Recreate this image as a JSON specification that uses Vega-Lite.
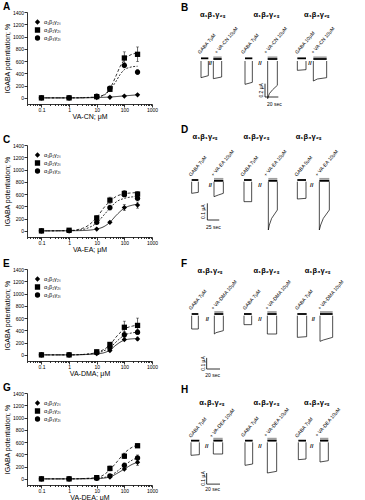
{
"$schema":"https://vega.github.io/schema/vega-lite/v6.json",
"padding":{"left":3,"top":2,"right":0,"bottom":0},
"config":{"font":"Liberation Sans","view":{"stroke":null},
"axis":{"domainColor":"black","tickColor":"black","labelColor":"black","titleColor":"black","grid":false,"labelFontSize":5,"titleFontSize":7,"titleFontWeight":"normal","tickSize":3,"domainWidth":0.8,"tickWidth":0.8,"labelPadding":0.5},
"legend":{"orient":"top-left","offset":7,"padding":0,"rowPadding":1,"labelFontSize":5.5,"symbolSize":28,"labelOffset":3,"labelColor":"black","clipHeight":6},
"title":{"fontSize":10,"fontWeight":"bold","anchor":"start","frame":"group","color":"black","offset":-2}},
"datasets":{
"pts":[
{"drug":"CN","sub":"α₁β₁γ₂ₛ","conc":0.1,"pot":0},{"drug":"CN","sub":"α₁β₁γ₂ₛ","conc":1,"pot":0},{"drug":"CN","sub":"α₁β₁γ₂ₛ","conc":10,"pot":5},{"drug":"CN","sub":"α₁β₁γ₂ₛ","conc":30,"pot":10},{"drug":"CN","sub":"α₁β₁γ₂ₛ","conc":100,"pot":30},{"drug":"CN","sub":"α₁β₁γ₂ₛ","conc":300,"pot":50},
{"drug":"CN","sub":"α₁β₂γ₂ₛ","conc":0.1,"pot":0},{"drug":"CN","sub":"α₁β₂γ₂ₛ","conc":1,"pot":0},{"drug":"CN","sub":"α₁β₂γ₂ₛ","conc":10,"pot":20},{"drug":"CN","sub":"α₁β₂γ₂ₛ","conc":30,"pot":140},{"drug":"CN","sub":"α₁β₂γ₂ₛ","conc":100,"pot":650},{"drug":"CN","sub":"α₁β₂γ₂ₛ","conc":300,"pot":710},
{"drug":"CN","sub":"α₁β₃γ₂ₛ","conc":0.1,"pot":0},{"drug":"CN","sub":"α₁β₃γ₂ₛ","conc":1,"pot":0},{"drug":"CN","sub":"α₁β₃γ₂ₛ","conc":10,"pot":30},{"drug":"CN","sub":"α₁β₃γ₂ₛ","conc":30,"pot":160},{"drug":"CN","sub":"α₁β₃γ₂ₛ","conc":100,"pot":530},{"drug":"CN","sub":"α₁β₃γ₂ₛ","conc":300,"pot":420},
{"drug":"EA","sub":"α₁β₁γ₂ₛ","conc":0.1,"pot":0},{"drug":"EA","sub":"α₁β₁γ₂ₛ","conc":1,"pot":0},{"drug":"EA","sub":"α₁β₁γ₂ₛ","conc":10,"pot":30},{"drug":"EA","sub":"α₁β₁γ₂ₛ","conc":30,"pot":140},{"drug":"EA","sub":"α₁β₁γ₂ₛ","conc":100,"pot":380},{"drug":"EA","sub":"α₁β₁γ₂ₛ","conc":300,"pot":420},
{"drug":"EA","sub":"α₁β₂γ₂ₛ","conc":0.1,"pot":0},{"drug":"EA","sub":"α₁β₂γ₂ₛ","conc":1,"pot":10},{"drug":"EA","sub":"α₁β₂γ₂ₛ","conc":10,"pot":210},{"drug":"EA","sub":"α₁β₂γ₂ₛ","conc":30,"pot":500},{"drug":"EA","sub":"α₁β₂γ₂ₛ","conc":100,"pot":610},{"drug":"EA","sub":"α₁β₂γ₂ₛ","conc":300,"pot":600},
{"drug":"EA","sub":"α₁β₃γ₂ₛ","conc":0.1,"pot":0},{"drug":"EA","sub":"α₁β₃γ₂ₛ","conc":1,"pot":5},{"drug":"EA","sub":"α₁β₃γ₂ₛ","conc":10,"pot":140},{"drug":"EA","sub":"α₁β₃γ₂ₛ","conc":30,"pot":380},{"drug":"EA","sub":"α₁β₃γ₂ₛ","conc":100,"pot":590},{"drug":"EA","sub":"α₁β₃γ₂ₛ","conc":300,"pot":530},
{"drug":"DMA","sub":"α₁β₁γ₂ₛ","conc":0.1,"pot":0},{"drug":"DMA","sub":"α₁β₁γ₂ₛ","conc":1,"pot":0},{"drug":"DMA","sub":"α₁β₁γ₂ₛ","conc":10,"pot":20},{"drug":"DMA","sub":"α₁β₁γ₂ₛ","conc":30,"pot":70},{"drug":"DMA","sub":"α₁β₁γ₂ₛ","conc":100,"pot":250},{"drug":"DMA","sub":"α₁β₁γ₂ₛ","conc":300,"pot":260},
{"drug":"DMA","sub":"α₁β₂γ₂ₛ","conc":0.1,"pot":0},{"drug":"DMA","sub":"α₁β₂γ₂ₛ","conc":1,"pot":0},{"drug":"DMA","sub":"α₁β₂γ₂ₛ","conc":10,"pot":50},{"drug":"DMA","sub":"α₁β₂γ₂ₛ","conc":30,"pot":170},{"drug":"DMA","sub":"α₁β₂γ₂ₛ","conc":100,"pot":450},{"drug":"DMA","sub":"α₁β₂γ₂ₛ","conc":300,"pot":480},
{"drug":"DMA","sub":"α₁β₃γ₂ₛ","conc":0.1,"pot":0},{"drug":"DMA","sub":"α₁β₃γ₂ₛ","conc":1,"pot":0},{"drug":"DMA","sub":"α₁β₃γ₂ₛ","conc":10,"pot":40},{"drug":"DMA","sub":"α₁β₃γ₂ₛ","conc":30,"pot":120},{"drug":"DMA","sub":"α₁β₃γ₂ₛ","conc":100,"pot":330},{"drug":"DMA","sub":"α₁β₃γ₂ₛ","conc":300,"pot":370},
{"drug":"DEA","sub":"α₁β₁γ₂ₛ","conc":0.1,"pot":0},{"drug":"DEA","sub":"α₁β₁γ₂ₛ","conc":1,"pot":0},{"drug":"DEA","sub":"α₁β₁γ₂ₛ","conc":10,"pot":10},{"drug":"DEA","sub":"α₁β₁γ₂ₛ","conc":30,"pot":30},{"drug":"DEA","sub":"α₁β₁γ₂ₛ","conc":100,"pot":160},{"drug":"DEA","sub":"α₁β₁γ₂ₛ","conc":300,"pot":270},
{"drug":"DEA","sub":"α₁β₂γ₂ₛ","conc":0.1,"pot":0},{"drug":"DEA","sub":"α₁β₂γ₂ₛ","conc":1,"pot":0},{"drug":"DEA","sub":"α₁β₂γ₂ₛ","conc":10,"pot":20},{"drug":"DEA","sub":"α₁β₂γ₂ₛ","conc":30,"pot":170},{"drug":"DEA","sub":"α₁β₂γ₂ₛ","conc":100,"pot":370},{"drug":"DEA","sub":"α₁β₂γ₂ₛ","conc":300,"pot":540},
{"drug":"DEA","sub":"α₁β₃γ₂ₛ","conc":0.1,"pot":0},{"drug":"DEA","sub":"α₁β₃γ₂ₛ","conc":1,"pot":0},{"drug":"DEA","sub":"α₁β₃γ₂ₛ","conc":10,"pot":10},{"drug":"DEA","sub":"α₁β₃γ₂ₛ","conc":30,"pot":50},{"drug":"DEA","sub":"α₁β₃γ₂ₛ","conc":100,"pot":220},{"drug":"DEA","sub":"α₁β₃γ₂ₛ","conc":300,"pot":340}
],
"fits":[
{"drug":"CN","curve":"b1","conc":0.1,"pot":0},{"drug":"CN","curve":"b1","conc":1,"pot":0},{"drug":"CN","curve":"b1","conc":10,"pot":5},{"drug":"CN","curve":"b1","conc":30,"pot":14},{"drug":"CN","curve":"b1","conc":100,"pot":32},{"drug":"CN","curve":"b1","conc":300,"pot":50},
{"drug":"CN","curve":"b2","conc":0.1,"pot":0},{"drug":"CN","curve":"b2","conc":1,"pot":0},{"drug":"CN","curve":"b2","conc":3,"pot":1},{"drug":"CN","curve":"b2","conc":10,"pot":15},{"drug":"CN","curve":"b2","conc":20,"pot":60},{"drug":"CN","curve":"b2","conc":30,"pot":150},{"drug":"CN","curve":"b2","conc":50,"pot":360},{"drug":"CN","curve":"b2","conc":70,"pot":510},{"drug":"CN","curve":"b2","conc":100,"pot":620},{"drug":"CN","curve":"b2","conc":150,"pot":690},{"drug":"CN","curve":"b2","conc":200,"pot":715},{"drug":"CN","curve":"b2","conc":300,"pot":730},
{"drug":"CN","curve":"b3","conc":0.1,"pot":0},{"drug":"CN","curve":"b3","conc":1,"pot":0},{"drug":"CN","curve":"b3","conc":10,"pot":15},{"drug":"CN","curve":"b3","conc":20,"pot":55},{"drug":"CN","curve":"b3","conc":30,"pot":130},{"drug":"CN","curve":"b3","conc":50,"pot":270},{"drug":"CN","curve":"b3","conc":70,"pot":380},{"drug":"CN","curve":"b3","conc":100,"pot":460},{"drug":"CN","curve":"b3","conc":150,"pot":495},{"drug":"CN","curve":"b3","conc":200,"pot":508},{"drug":"CN","curve":"b3","conc":300,"pot":515},
{"drug":"EA","curve":"b1","conc":0.1,"pot":0},{"drug":"EA","curve":"b1","conc":1,"pot":2},{"drug":"EA","curve":"b1","conc":3,"pot":5},{"drug":"EA","curve":"b1","conc":10,"pot":30},{"drug":"EA","curve":"b1","conc":20,"pot":80},{"drug":"EA","curve":"b1","conc":30,"pot":140},{"drug":"EA","curve":"b1","conc":50,"pot":250},{"drug":"EA","curve":"b1","conc":100,"pot":370},{"drug":"EA","curve":"b1","conc":200,"pot":420},{"drug":"EA","curve":"b1","conc":300,"pot":435},
{"drug":"EA","curve":"b2","conc":0.1,"pot":0},{"drug":"EA","curve":"b2","conc":1,"pot":5},{"drug":"EA","curve":"b2","conc":3,"pot":40},{"drug":"EA","curve":"b2","conc":5,"pot":90},{"drug":"EA","curve":"b2","conc":10,"pot":220},{"drug":"EA","curve":"b2","conc":20,"pot":400},{"drug":"EA","curve":"b2","conc":30,"pot":480},{"drug":"EA","curve":"b2","conc":50,"pot":560},{"drug":"EA","curve":"b2","conc":100,"pot":605},{"drug":"EA","curve":"b2","conc":200,"pot":620},{"drug":"EA","curve":"b2","conc":300,"pot":625},
{"drug":"EA","curve":"b3","conc":0.1,"pot":0},{"drug":"EA","curve":"b3","conc":1,"pot":3},{"drug":"EA","curve":"b3","conc":3,"pot":20},{"drug":"EA","curve":"b3","conc":5,"pot":50},{"drug":"EA","curve":"b3","conc":10,"pot":130},{"drug":"EA","curve":"b3","conc":20,"pot":280},{"drug":"EA","curve":"b3","conc":30,"pot":370},{"drug":"EA","curve":"b3","conc":50,"pot":470},{"drug":"EA","curve":"b3","conc":100,"pot":530},{"drug":"EA","curve":"b3","conc":200,"pot":555},{"drug":"EA","curve":"b3","conc":300,"pot":560},
{"drug":"DMA","curve":"b1","conc":0.1,"pot":0},{"drug":"DMA","curve":"b1","conc":1,"pot":0},{"drug":"DMA","curve":"b1","conc":10,"pot":15},{"drug":"DMA","curve":"b1","conc":20,"pot":40},{"drug":"DMA","curve":"b1","conc":30,"pot":75},{"drug":"DMA","curve":"b1","conc":50,"pot":160},{"drug":"DMA","curve":"b1","conc":100,"pot":240},{"drug":"DMA","curve":"b1","conc":200,"pot":262},{"drug":"DMA","curve":"b1","conc":300,"pot":265},
{"drug":"DMA","curve":"b2","conc":0.1,"pot":0},{"drug":"DMA","curve":"b2","conc":1,"pot":0},{"drug":"DMA","curve":"b2","conc":3,"pot":5},{"drug":"DMA","curve":"b2","conc":10,"pot":40},{"drug":"DMA","curve":"b2","conc":20,"pot":100},{"drug":"DMA","curve":"b2","conc":30,"pot":160},{"drug":"DMA","curve":"b2","conc":50,"pot":290},{"drug":"DMA","curve":"b2","conc":100,"pot":420},{"drug":"DMA","curve":"b2","conc":200,"pot":470},{"drug":"DMA","curve":"b2","conc":300,"pot":485},
{"drug":"DMA","curve":"b3","conc":0.1,"pot":0},{"drug":"DMA","curve":"b3","conc":1,"pot":0},{"drug":"DMA","curve":"b3","conc":10,"pot":30},{"drug":"DMA","curve":"b3","conc":20,"pot":75},{"drug":"DMA","curve":"b3","conc":30,"pot":115},{"drug":"DMA","curve":"b3","conc":50,"pot":210},{"drug":"DMA","curve":"b3","conc":100,"pot":320},{"drug":"DMA","curve":"b3","conc":200,"pot":360},{"drug":"DMA","curve":"b3","conc":300,"pot":370},
{"drug":"DEA","curve":"b1","conc":0.1,"pot":0},{"drug":"DEA","curve":"b1","conc":1,"pot":0},{"drug":"DEA","curve":"b1","conc":10,"pot":5},{"drug":"DEA","curve":"b1","conc":30,"pot":30},{"drug":"DEA","curve":"b1","conc":50,"pot":80},{"drug":"DEA","curve":"b1","conc":100,"pot":160},{"drug":"DEA","curve":"b1","conc":200,"pot":240},{"drug":"DEA","curve":"b1","conc":300,"pot":270},
{"drug":"DEA","curve":"b2","conc":0.1,"pot":0},{"drug":"DEA","curve":"b2","conc":1,"pot":0},{"drug":"DEA","curve":"b2","conc":10,"pot":20},{"drug":"DEA","curve":"b2","conc":20,"pot":80},{"drug":"DEA","curve":"b2","conc":30,"pot":150},{"drug":"DEA","curve":"b2","conc":50,"pot":260},{"drug":"DEA","curve":"b2","conc":100,"pot":420},{"drug":"DEA","curve":"b2","conc":200,"pot":520},{"drug":"DEA","curve":"b2","conc":300,"pot":550},
{"drug":"DEA","curve":"b3","conc":0.1,"pot":0},{"drug":"DEA","curve":"b3","conc":1,"pot":0},{"drug":"DEA","curve":"b3","conc":10,"pot":10},{"drug":"DEA","curve":"b3","conc":30,"pot":50},{"drug":"DEA","curve":"b3","conc":50,"pot":110},{"drug":"DEA","curve":"b3","conc":100,"pot":220},{"drug":"DEA","curve":"b3","conc":200,"pot":310},{"drug":"DEA","curve":"b3","conc":300,"pot":345}
],
"errs":[
{"drug":"CN","conc":100,"lo":550,"hi":750},{"drug":"CN","conc":300,"lo":590,"hi":830},{"drug":"CN","conc":100,"lo":490,"hi":570},{"drug":"CN","conc":300,"lo":380,"hi":460},{"drug":"CN","conc":30,"lo":110,"hi":170},
{"drug":"EA","conc":100,"lo":330,"hi":430},{"drug":"EA","conc":300,"lo":370,"hi":470},{"drug":"EA","conc":10,"lo":170,"hi":250},{"drug":"EA","conc":30,"lo":450,"hi":550},{"drug":"EA","conc":100,"lo":560,"hi":660},{"drug":"EA","conc":300,"lo":560,"hi":640},{"drug":"EA","conc":30,"lo":340,"hi":420},
{"drug":"DMA","conc":100,"lo":350,"hi":550},{"drug":"DMA","conc":300,"lo":380,"hi":600},{"drug":"DMA","conc":100,"lo":280,"hi":380},{"drug":"DMA","conc":300,"lo":330,"hi":410},{"drug":"DMA","conc":300,"lo":230,"hi":290},
{"drug":"DEA","conc":300,"lo":220,"hi":320},{"drug":"DEA","conc":30,"lo":130,"hi":210},{"drug":"DEA","conc":100,"lo":330,"hi":420},{"drug":"DEA","conc":300,"lo":510,"hi":570},{"drug":"DEA","conc":100,"lo":180,"hi":260},{"drug":"DEA","conc":300,"lo":290,"hi":390}
],
"tr":[
{"panel":"B","id":"1g","t":31.5,"I":-0.735},{"panel":"B","id":"1g","t":31.5,"I":-0.985},{"panel":"B","id":"1g","t":42.5,"I":-0.955},{"panel":"B","id":"1g","t":42.5,"I":-0.735},
{"panel":"B","id":"1c","t":50,"I":-0.735},{"panel":"B","id":"1c","t":50,"I":-1.0},{"panel":"B","id":"1c","t":62.5,"I":-0.975},{"panel":"B","id":"1c","t":62.5,"I":-0.735},
{"panel":"B","id":"2g","t":97.5,"I":-0.735},{"panel":"B","id":"2g","t":97.5,"I":-1.085},{"panel":"B","id":"2g","t":108.5,"I":-1.055},{"panel":"B","id":"2g","t":108.5,"I":-0.735},
{"panel":"B","id":"2c","t":131.5,"I":-0.735},{"panel":"B","id":"2c","t":131.5,"I":-1.3},{"panel":"B","id":"2c","t":134,"I":-1.225},{"panel":"B","id":"2c","t":139,"I":-1.165},{"panel":"B","id":"2c","t":146,"I":-1.1},{"panel":"B","id":"2c","t":146,"I":-0.735},
{"panel":"B","id":"3g","t":176,"I":-0.735},{"panel":"B","id":"3g","t":176,"I":-0.875},{"panel":"B","id":"3g","t":189,"I":-0.865},{"panel":"B","id":"3g","t":189,"I":-0.735},
{"panel":"B","id":"3c","t":200,"I":-0.735},{"panel":"B","id":"3c","t":200,"I":-1.035},{"panel":"B","id":"3c","t":206,"I":-1.005},{"panel":"B","id":"3c","t":220,"I":-0.985},{"panel":"B","id":"3c","t":220,"I":-0.735},
{"panel":"D","id":"1g","t":24.5,"I":-0.22},{"panel":"D","id":"1g","t":24.5,"I":-0.29},{"panel":"D","id":"1g","t":38.5,"I":-0.284},{"panel":"D","id":"1g","t":38.5,"I":-0.22},
{"panel":"D","id":"1c","t":71.4,"I":-0.22},{"panel":"D","id":"1c","t":71.4,"I":-0.31},{"panel":"D","id":"1c","t":80.5,"I":-0.3},{"panel":"D","id":"1c","t":91,"I":-0.29},{"panel":"D","id":"1c","t":91,"I":-0.22},
{"panel":"D","id":"2g","t":134.4,"I":-0.22},{"panel":"D","id":"2g","t":134.4,"I":-0.34},{"panel":"D","id":"2g","t":150.5,"I":-0.34},{"panel":"D","id":"2g","t":150.5,"I":-0.22},
{"panel":"D","id":"2c","t":185.5,"I":-0.22},{"panel":"D","id":"2c","t":185.5,"I":-0.51},{"panel":"D","id":"2c","t":187.6,"I":-0.48},{"panel":"D","id":"2c","t":192.5,"I":-0.44},{"panel":"D","id":"2c","t":204.4,"I":-0.39},{"panel":"D","id":"2c","t":204.4,"I":-0.22},
{"panel":"D","id":"3g","t":246.4,"I":-0.22},{"panel":"D","id":"3g","t":246.4,"I":-0.324},{"panel":"D","id":"3g","t":264.6,"I":-0.32},{"panel":"D","id":"3g","t":264.6,"I":-0.22},
{"panel":"D","id":"3c","t":292.6,"I":-0.22},{"panel":"D","id":"3c","t":292.6,"I":-0.51},{"panel":"D","id":"3c","t":295.4,"I":-0.48},{"panel":"D","id":"3c","t":301,"I":-0.44},{"panel":"D","id":"3c","t":313.6,"I":-0.39},{"panel":"D","id":"3c","t":313.6,"I":-0.22},
{"panel":"F","id":"1g","t":17.5,"I":-0.42},{"panel":"F","id":"1g","t":17.5,"I":-0.54},{"panel":"F","id":"1g","t":27.5,"I":-0.54},{"panel":"F","id":"1g","t":27.5,"I":-0.42},
{"panel":"F","id":"1c","t":51.5,"I":-0.42},{"panel":"F","id":"1c","t":51.5,"I":-0.585},{"panel":"F","id":"1c","t":54,"I":-0.573},{"panel":"F","id":"1c","t":65,"I":-0.555},{"panel":"F","id":"1c","t":65,"I":-0.42},
{"panel":"F","id":"2g","t":96,"I":-0.42},{"panel":"F","id":"2g","t":96,"I":-0.501},{"panel":"F","id":"2g","t":107.5,"I":-0.501},{"panel":"F","id":"2g","t":107.5,"I":-0.42},
{"panel":"F","id":"2c","t":131,"I":-0.42},{"panel":"F","id":"2c","t":131,"I":-0.585},{"panel":"F","id":"2c","t":145,"I":-0.585},{"panel":"F","id":"2c","t":145,"I":-0.42},
{"panel":"F","id":"3g","t":176,"I":-0.42},{"panel":"F","id":"3g","t":176,"I":-0.615},{"panel":"F","id":"3g","t":190,"I":-0.609},{"panel":"F","id":"3g","t":190,"I":-0.42},
{"panel":"F","id":"3c","t":210,"I":-0.42},{"panel":"F","id":"3c","t":210,"I":-0.651},{"panel":"F","id":"3c","t":215,"I":-0.639},{"panel":"F","id":"3c","t":229,"I":-0.615},{"panel":"F","id":"3c","t":229,"I":-0.42},
{"panel":"H","id":"1g","t":16.5,"I":-0.444},{"panel":"H","id":"1g","t":16.5,"I":-0.561},{"panel":"H","id":"1g","t":29,"I":-0.555},{"panel":"H","id":"1g","t":29,"I":-0.444},
{"panel":"H","id":"1c","t":50,"I":-0.444},{"panel":"H","id":"1c","t":50,"I":-0.549},{"panel":"H","id":"1c","t":64,"I":-0.549},{"panel":"H","id":"1c","t":64,"I":-0.444},
{"panel":"H","id":"2g","t":97.5,"I":-0.444},{"panel":"H","id":"2g","t":97.5,"I":-0.651},{"panel":"H","id":"2g","t":109,"I":-0.639},{"panel":"H","id":"2g","t":109,"I":-0.444},
{"panel":"H","id":"2c","t":131,"I":-0.444},{"panel":"H","id":"2c","t":131,"I":-0.72},{"panel":"H","id":"2c","t":145,"I":-0.705},{"panel":"H","id":"2c","t":145,"I":-0.444},
{"panel":"H","id":"3g","t":177.5,"I":-0.444},{"panel":"H","id":"3g","t":177.5,"I":-0.6},{"panel":"H","id":"3g","t":189,"I":-0.594},{"panel":"H","id":"3g","t":189,"I":-0.444},
{"panel":"H","id":"3c","t":210,"I":-0.444},{"panel":"H","id":"3c","t":210,"I":-0.621},{"panel":"H","id":"3c","t":222.5,"I":-0.609},{"panel":"H","id":"3c","t":222.5,"I":-0.444}
],
"bars":[
{"panel":"B","agent":"GABA","t":31.5,"t2":42.5,"I":-0.695},{"panel":"B","agent":"GABA","t":97.5,"t2":108.5,"I":-0.695},{"panel":"B","agent":"GABA","t":176,"t2":189,"I":-0.695},
{"panel":"B","agent":"modulator","t":50,"t2":62.5,"I":-0.68},{"panel":"B","agent":"GABA","t":50,"t2":62.5,"I":-0.705},{"panel":"B","agent":"modulator","t":131.5,"t2":146,"I":-0.68},{"panel":"B","agent":"GABA","t":131.5,"t2":146,"I":-0.705},{"panel":"B","agent":"modulator","t":200,"t2":220,"I":-0.68},{"panel":"B","agent":"GABA","t":200,"t2":220,"I":-0.705},
{"panel":"D","agent":"GABA","t":24.5,"t2":38.5,"I":-0.21},{"panel":"D","agent":"GABA","t":134.4,"t2":150.5,"I":-0.21},{"panel":"D","agent":"GABA","t":246.4,"t2":264.6,"I":-0.21},
{"panel":"D","agent":"modulator","t":71.4,"t2":91,"I":-0.203},{"panel":"D","agent":"GABA","t":71.4,"t2":91,"I":-0.215},{"panel":"D","agent":"modulator","t":185.5,"t2":204.4,"I":-0.203},{"panel":"D","agent":"GABA","t":185.5,"t2":204.4,"I":-0.215},{"panel":"D","agent":"modulator","t":292.6,"t2":313.6,"I":-0.203},{"panel":"D","agent":"GABA","t":292.6,"t2":313.6,"I":-0.215},
{"panel":"F","agent":"GABA","t":17.5,"t2":27.5,"I":-0.405},{"panel":"F","agent":"GABA","t":96,"t2":107.5,"I":-0.405},{"panel":"F","agent":"GABA","t":176,"t2":190,"I":-0.405},
{"panel":"F","agent":"modulator","t":51.5,"t2":65,"I":-0.387},{"panel":"F","agent":"GABA","t":51.5,"t2":65,"I":-0.405},{"panel":"F","agent":"modulator","t":131,"t2":145,"I":-0.387},{"panel":"F","agent":"GABA","t":131,"t2":145,"I":-0.405},{"panel":"F","agent":"modulator","t":210,"t2":229,"I":-0.387},{"panel":"F","agent":"GABA","t":210,"t2":229,"I":-0.405},
{"panel":"H","agent":"GABA","t":16.5,"t2":29,"I":-0.429},{"panel":"H","agent":"GABA","t":97.5,"t2":109,"I":-0.429},{"panel":"H","agent":"GABA","t":177.5,"t2":189,"I":-0.429},
{"panel":"H","agent":"modulator","t":50,"t2":64,"I":-0.411},{"panel":"H","agent":"GABA","t":50,"t2":64,"I":-0.429},{"panel":"H","agent":"modulator","t":131,"t2":145,"I":-0.411},{"panel":"H","agent":"GABA","t":131,"t2":145,"I":-0.429},{"panel":"H","agent":"modulator","t":210,"t2":222.5,"I":-0.411},{"panel":"H","agent":"GABA","t":210,"t2":222.5,"I":-0.429}
],
"sb":[
{"panel":"B","t":127.5,"t2":127.5,"I":-1.075,"I2":-1.275},{"panel":"B","t":127.5,"t2":147.5,"I":-1.275,"I2":-1.275},
{"panel":"D","t":57.4,"t2":57.4,"I":-0.35,"I2":-0.45},{"panel":"D","t":57.4,"t2":82.4,"I":-0.45,"I2":-0.45},
{"panel":"F","t":40,"t2":40,"I":-0.8,"I2":-0.9},{"panel":"F","t":40,"t2":60,"I":-0.9,"I2":-0.9},
{"panel":"H","t":40,"t2":40,"I":-0.72,"I2":-0.82},{"panel":"H","t":40,"t2":60,"I":-0.82,"I2":-0.82}
],
"tx":[
{"panel":"B","kind":"title","t":48.5,"I":-0.05,"label":"α₁β₁γ₂ₛ"},{"panel":"B","kind":"title","t":129,"I":-0.05,"label":"α₁β₂γ₂ₛ"},{"panel":"B","kind":"title","t":205,"I":-0.05,"label":"α₁β₃γ₂ₛ"},
{"panel":"B","kind":"label","t":30,"I":-0.635,"label":"GABA 7μM"},{"panel":"B","kind":"label","t":55,"I":-0.635,"label":"+ VA-CN 10μM"},{"panel":"B","kind":"label","t":95,"I":-0.635,"label":"GABA 7μM"},{"panel":"B","kind":"label","t":129,"I":-0.635,"label":"+ VA-CN 10μM"},{"panel":"B","kind":"label","t":176,"I":-0.635,"label":"GABA 10μM"},{"panel":"B","kind":"label","t":200,"I":-0.635,"label":"+ VA-CN 10μM"},
{"panel":"B","kind":"break","t":45.5,"I":-0.77,"label":"//"},{"panel":"B","kind":"break","t":120,"I":-0.77,"label":"//"},{"panel":"B","kind":"break","t":195,"I":-0.77,"label":"//"},
{"panel":"B","kind":"sv","t":121.5,"I":-1.175,"label":"0.2 μA"},{"panel":"B","kind":"sh","t":141.5,"I":-1.385,"label":"20 sec"},
{"panel":"D","kind":"title","t":52.5,"I":0.046,"label":"α₁β₁γ₂ₛ"},{"panel":"D","kind":"title","t":159.6,"I":0.046,"label":"α₁β₂γ₂ₛ"},{"panel":"D","kind":"title","t":269.5,"I":0.046,"label":"α₁β₃γ₂ₛ"},
{"panel":"D","kind":"label","t":23.1,"I":-0.19,"label":"GABA 7μM"},{"panel":"D","kind":"label","t":70,"I":-0.19,"label":"+ VA-EA 10μM"},{"panel":"D","kind":"label","t":131.6,"I":-0.19,"label":"GABA 7μM"},{"panel":"D","kind":"label","t":180.6,"I":-0.19,"label":"+ VA-EA 10μM"},{"panel":"D","kind":"label","t":245,"I":-0.19,"label":"GABA 5μM"},{"panel":"D","kind":"label","t":288.4,"I":-0.19,"label":"+ VA-EA 10μM"},
{"panel":"D","kind":"break","t":63.7,"I":-0.24,"label":"//"},{"panel":"D","kind":"break","t":168,"I":-0.24,"label":"//"},{"panel":"D","kind":"break","t":276.5,"I":-0.24,"label":"//"},
{"panel":"D","kind":"sv","t":47.6,"I":-0.4,"label":"0.1 μA"},{"panel":"D","kind":"sh","t":70,"I":-0.49,"label":"25 sec"},
{"panel":"F","kind":"title","t":45,"I":-0.015,"label":"α₁β₁γ₂ₛ"},{"panel":"F","kind":"title","t":129,"I":-0.015,"label":"α₁β₂γ₂ₛ"},{"panel":"F","kind":"title","t":206,"I":-0.015,"label":"α₁β₃γ₂ₛ"},
{"panel":"F","kind":"label","t":16.5,"I":-0.372,"label":"GABA 7μM"},{"panel":"F","kind":"label","t":50,"I":-0.372,"label":"+ VA-DMA 10μM"},{"panel":"F","kind":"label","t":97.5,"I":-0.372,"label":"GABA 7μM"},{"panel":"F","kind":"label","t":131,"I":-0.372,"label":"+ VA-DMA 10μM"},{"panel":"F","kind":"label","t":176,"I":-0.372,"label":"GABA 7μM"},{"panel":"F","kind":"label","t":210,"I":-0.372,"label":"+ VA-DMA 10μM"},
{"panel":"F","kind":"break","t":41,"I":-0.45,"label":"//"},{"panel":"F","kind":"break","t":120,"I":-0.45,"label":"//"},{"panel":"F","kind":"break","t":200,"I":-0.45,"label":"//"},
{"panel":"F","kind":"sv","t":34,"I":-0.85,"label":"0.1 μA"},{"panel":"F","kind":"sh","t":49,"I":-0.951,"label":"20 sec"},
{"panel":"H","kind":"title","t":47.5,"I":-0.09,"label":"α₁β₁γ₂ₛ"},{"panel":"H","kind":"title","t":129,"I":-0.09,"label":"α₁β₂γ₂ₛ"},{"panel":"H","kind":"title","t":205,"I":-0.09,"label":"α₁β₃γ₂ₛ"},
{"panel":"H","kind":"label","t":16.5,"I":-0.405,"label":"GABA 7μM"},{"panel":"H","kind":"label","t":47.5,"I":-0.405,"label":"+ VA-DEA 10μM"},{"panel":"H","kind":"label","t":95,"I":-0.399,"label":"GABA 7μM"},{"panel":"H","kind":"label","t":129,"I":-0.399,"label":"+ VA-DEA 10μM"},{"panel":"H","kind":"label","t":176,"I":-0.405,"label":"GABA 7μM"},{"panel":"H","kind":"label","t":206,"I":-0.399,"label":"+ VA-DEA 10μM"},
{"panel":"H","kind":"break","t":40,"I":-0.48,"label":"//"},{"panel":"H","kind":"break","t":120,"I":-0.48,"label":"//"},{"panel":"H","kind":"break","t":197.5,"I":-0.48,"label":"//"},
{"panel":"H","kind":"sv","t":34,"I":-0.77,"label":"0.1 μA"},{"panel":"H","kind":"sh","t":49,"I":-0.861,"label":"20 sec"}
]
},
"vconcat":[
{"hconcat":[
{"width":125,"height":92,"title":{"text":"A","dx":-24},
"encoding":{"x":{"field":"conc","type":"quantitative","scale":{"type":"log","domain":[0.03,1000],"nice":false},"axis":{"title":"VA-CN; μM","titlePadding":0,"values":[0.03,0.04,0.05,0.06,0.07,0.08,0.09,0.1,0.2,0.3,0.4,0.5,0.6,0.7,0.8,0.9,1,2,3,4,5,6,7,8,9,10,20,30,40,50,60,70,80,90,100,200,300,400,500,600,700,800,900,1000],"labelExpr":"indexof([0.1,1,10,100,1000],datum.value)>=0 ? format(datum.value,'~g') : ''","tickSize":{"condition":{"test":"indexof([0.1,1,10,100,1000],datum.value)>=0","value":3},"value":1.5},"labelOverlap":false,"labelFlush":false}},
"y":{"field":"pot","type":"quantitative","scale":{"domain":[-100,1400],"nice":false,"zero":false},"axis":{"title":"IGABA potentiation; %","format":"d","values":[0,200,400,600,800,1000,1200,1400],"titlePadding":2}}},
"layer":[
{"data":{"name":"fits"},"transform":[{"filter":"datum.drug==='CN'"}],"mark":{"type":"line","color":"black","strokeWidth":0.8,"interpolate":"monotone"},"encoding":{"strokeDash":{"field":"curve","type":"nominal","scale":{"domain":["b1","b2","b3"],"range":[[1,0],[3,2],[2,1.5]]},"legend":null}}},
{"data":{"name":"errs"},"transform":[{"filter":"datum.drug==='CN'"}],"mark":{"type":"errorbar","ticks":{"size":3},"color":"black","thickness":0.6},"encoding":{"y":{"field":"lo","type":"quantitative","scale":{"domain":[-100,1400],"nice":false,"zero":false},"title":"IGABA potentiation; %"},"y2":{"field":"hi"}}},
{"data":{"name":"pts"},"transform":[{"filter":"datum.drug==='CN'"}],"mark":{"type":"point","filled":true,"color":"black","opacity":1,"size":28},"encoding":{"shape":{"field":"sub","type":"nominal","scale":{"domain":["α₁β₁γ₂ₛ","α₁β₂γ₂ₛ","α₁β₃γ₂ₛ"],"range":["diamond","square","circle"]},"legend":{"title":null}}}}
]},
{"width":185,"height":92,"title":{"text":"B","dx":1},
"encoding":{"x":{"field":"t","type":"quantitative","scale":{"domain":[0,277.5],"nice":false,"zero":false},"axis":null},"y":{"field":"I","type":"quantitative","scale":{"domain":[-1.38,0],"nice":false,"zero":false},"axis":null}},
"layer":[
{"data":{"name":"tr"},"transform":[{"filter":"datum.panel==='B'"}],"mark":{"type":"line","color":"black","strokeWidth":0.7},"encoding":{"detail":{"field":"id"},"order":{"value":null}}},
{"data":{"name":"bars"},"transform":[{"filter":"datum.panel==='B'"}],"mark":{"type":"rule","strokeWidth":1.8},"encoding":{"x2":{"field":"t2"},"color":{"field":"agent","type":"nominal","scale":{"domain":["GABA","modulator"],"range":["black","#a0a0a0"]},"legend":null}}},
{"data":{"name":"sb"},"transform":[{"filter":"datum.panel==='B'"}],"mark":{"type":"rule","color":"black","strokeWidth":0.8},"encoding":{"x2":{"field":"t2"},"y2":{"field":"I2"}}},
{"data":{"name":"tx"},"transform":[{"filter":"datum.panel==='B' && datum.kind==='title'"}],"mark":{"type":"text","fontSize":7.5,"fontWeight":"bold","fill":"black"},"encoding":{"text":{"field":"label"}}},
{"data":{"name":"tx"},"transform":[{"filter":"datum.panel==='B' && datum.kind==='label'"}],"mark":{"type":"text","fontSize":5,"angle":310,"align":"left","baseline":"alphabetic","fill":"black"},"encoding":{"text":{"field":"label"}}},
{"data":{"name":"tx"},"transform":[{"filter":"datum.panel==='B' && datum.kind==='break'"}],"mark":{"type":"text","fontSize":6,"fontWeight":"bold","fill":"black"},"encoding":{"text":{"field":"label"}}},
{"data":{"name":"tx"},"transform":[{"filter":"datum.panel==='B' && datum.kind==='sv'"}],"mark":{"type":"text","fontSize":5,"angle":270,"fill":"black"},"encoding":{"text":{"field":"label"}}},
{"data":{"name":"tx"},"transform":[{"filter":"datum.panel==='B' && datum.kind==='sh'"}],"mark":{"type":"text","fontSize":5,"fill":"black"},"encoding":{"text":{"field":"label"}}}
]}
],"spacing":28,"bounds":"flush","resolve":{"scale":{"shape":"independent","strokeDash":"independent","color":"independent"}}},
{"hconcat":[
{"width":125,"height":92,"title":{"text":"C","dx":-24},
"encoding":{"x":{"field":"conc","type":"quantitative","scale":{"type":"log","domain":[0.03,1000],"nice":false},"axis":{"title":"VA-EA; μM","titlePadding":0,"values":[0.03,0.04,0.05,0.06,0.07,0.08,0.09,0.1,0.2,0.3,0.4,0.5,0.6,0.7,0.8,0.9,1,2,3,4,5,6,7,8,9,10,20,30,40,50,60,70,80,90,100,200,300,400,500,600,700,800,900,1000],"labelExpr":"indexof([0.1,1,10,100,1000],datum.value)>=0 ? format(datum.value,'~g') : ''","tickSize":{"condition":{"test":"indexof([0.1,1,10,100,1000],datum.value)>=0","value":3},"value":1.5},"labelOverlap":false,"labelFlush":false}},
"y":{"field":"pot","type":"quantitative","scale":{"domain":[-100,1400],"nice":false,"zero":false},"axis":{"title":"IGABA potentiation; %","format":"d","values":[0,200,400,600,800,1000,1200,1400],"titlePadding":2}}},
"layer":[
{"data":{"name":"fits"},"transform":[{"filter":"datum.drug==='EA'"}],"mark":{"type":"line","color":"black","strokeWidth":0.8,"interpolate":"monotone"},"encoding":{"strokeDash":{"field":"curve","type":"nominal","scale":{"domain":["b1","b2","b3"],"range":[[1,0],[3,2],[2,1.5]]},"legend":null}}},
{"data":{"name":"errs"},"transform":[{"filter":"datum.drug==='EA'"}],"mark":{"type":"errorbar","ticks":{"size":3},"color":"black","thickness":0.6},"encoding":{"y":{"field":"lo","type":"quantitative","scale":{"domain":[-100,1400],"nice":false,"zero":false},"title":"IGABA potentiation; %"},"y2":{"field":"hi"}}},
{"data":{"name":"pts"},"transform":[{"filter":"datum.drug==='EA'"}],"mark":{"type":"point","filled":true,"color":"black","opacity":1,"size":28},"encoding":{"shape":{"field":"sub","type":"nominal","scale":{"domain":["α₁β₁γ₂ₛ","α₁β₂γ₂ₛ","α₁β₃γ₂ₛ"],"range":["diamond","square","circle"]},"legend":{"title":null}}}}
]},
{"width":185,"height":92,"title":{"text":"D","dx":1},
"encoding":{"x":{"field":"t","type":"quantitative","scale":{"domain":[0,388.5],"nice":false,"zero":false},"axis":null},"y":{"field":"I","type":"quantitative","scale":{"domain":[-0.552,0],"nice":false,"zero":false},"axis":null}},
"layer":[
{"data":{"name":"tr"},"transform":[{"filter":"datum.panel==='D'"}],"mark":{"type":"line","color":"black","strokeWidth":0.7},"encoding":{"detail":{"field":"id"},"order":{"value":null}}},
{"data":{"name":"bars"},"transform":[{"filter":"datum.panel==='D'"}],"mark":{"type":"rule","strokeWidth":1.8},"encoding":{"x2":{"field":"t2"},"color":{"field":"agent","type":"nominal","scale":{"domain":["GABA","modulator"],"range":["black","#a0a0a0"]},"legend":null}}},
{"data":{"name":"sb"},"transform":[{"filter":"datum.panel==='D'"}],"mark":{"type":"rule","color":"black","strokeWidth":0.8},"encoding":{"x2":{"field":"t2"},"y2":{"field":"I2"}}},
{"data":{"name":"tx"},"transform":[{"filter":"datum.panel==='D' && datum.kind==='title'"}],"mark":{"type":"text","fontSize":7.5,"fontWeight":"bold","fill":"black"},"encoding":{"text":{"field":"label"}}},
{"data":{"name":"tx"},"transform":[{"filter":"datum.panel==='D' && datum.kind==='label'"}],"mark":{"type":"text","fontSize":5,"angle":310,"align":"left","baseline":"alphabetic","fill":"black"},"encoding":{"text":{"field":"label"}}},
{"data":{"name":"tx"},"transform":[{"filter":"datum.panel==='D' && datum.kind==='break'"}],"mark":{"type":"text","fontSize":6,"fontWeight":"bold","fill":"black"},"encoding":{"text":{"field":"label"}}},
{"data":{"name":"tx"},"transform":[{"filter":"datum.panel==='D' && datum.kind==='sv'"}],"mark":{"type":"text","fontSize":5,"angle":270,"fill":"black"},"encoding":{"text":{"field":"label"}}},
{"data":{"name":"tx"},"transform":[{"filter":"datum.panel==='D' && datum.kind==='sh'"}],"mark":{"type":"text","fontSize":5,"fill":"black"},"encoding":{"text":{"field":"label"}}}
]}
],"spacing":28,"bounds":"flush","resolve":{"scale":{"shape":"independent","strokeDash":"independent","color":"independent"}}},
{"hconcat":[
{"width":125,"height":92,"title":{"text":"E","dx":-24},
"encoding":{"x":{"field":"conc","type":"quantitative","scale":{"type":"log","domain":[0.03,1000],"nice":false},"axis":{"title":"VA-DMA; μM","titlePadding":0,"values":[0.03,0.04,0.05,0.06,0.07,0.08,0.09,0.1,0.2,0.3,0.4,0.5,0.6,0.7,0.8,0.9,1,2,3,4,5,6,7,8,9,10,20,30,40,50,60,70,80,90,100,200,300,400,500,600,700,800,900,1000],"labelExpr":"indexof([0.1,1,10,100,1000],datum.value)>=0 ? format(datum.value,'~g') : ''","tickSize":{"condition":{"test":"indexof([0.1,1,10,100,1000],datum.value)>=0","value":3},"value":1.5},"labelOverlap":false,"labelFlush":false}},
"y":{"field":"pot","type":"quantitative","scale":{"domain":[-100,1400],"nice":false,"zero":false},"axis":{"title":"IGABA potentiation; %","format":"d","values":[0,200,400,600,800,1000,1200,1400],"titlePadding":2}}},
"layer":[
{"data":{"name":"fits"},"transform":[{"filter":"datum.drug==='DMA'"}],"mark":{"type":"line","color":"black","strokeWidth":0.8,"interpolate":"monotone"},"encoding":{"strokeDash":{"field":"curve","type":"nominal","scale":{"domain":["b1","b2","b3"],"range":[[1,0],[3,2],[2,1.5]]},"legend":null}}},
{"data":{"name":"errs"},"transform":[{"filter":"datum.drug==='DMA'"}],"mark":{"type":"errorbar","ticks":{"size":3},"color":"black","thickness":0.6},"encoding":{"y":{"field":"lo","type":"quantitative","scale":{"domain":[-100,1400],"nice":false,"zero":false},"title":"IGABA potentiation; %"},"y2":{"field":"hi"}}},
{"data":{"name":"pts"},"transform":[{"filter":"datum.drug==='DMA'"}],"mark":{"type":"point","filled":true,"color":"black","opacity":1,"size":28},"encoding":{"shape":{"field":"sub","type":"nominal","scale":{"domain":["α₁β₁γ₂ₛ","α₁β₂γ₂ₛ","α₁β₃γ₂ₛ"],"range":["diamond","square","circle"]},"legend":{"title":null}}}}
]},
{"width":185,"height":92,"title":{"text":"F","dx":1},
"encoding":{"x":{"field":"t","type":"quantitative","scale":{"domain":[0,277.5],"nice":false,"zero":false},"axis":null},"y":{"field":"I","type":"quantitative","scale":{"domain":[-0.828,0],"nice":false,"zero":false},"axis":null}},
"layer":[
{"data":{"name":"tr"},"transform":[{"filter":"datum.panel==='F'"}],"mark":{"type":"line","color":"black","strokeWidth":0.7},"encoding":{"detail":{"field":"id"},"order":{"value":null}}},
{"data":{"name":"bars"},"transform":[{"filter":"datum.panel==='F'"}],"mark":{"type":"rule","strokeWidth":1.8},"encoding":{"x2":{"field":"t2"},"color":{"field":"agent","type":"nominal","scale":{"domain":["GABA","modulator"],"range":["black","#a0a0a0"]},"legend":null}}},
{"data":{"name":"sb"},"transform":[{"filter":"datum.panel==='F'"}],"mark":{"type":"rule","color":"black","strokeWidth":0.8},"encoding":{"x2":{"field":"t2"},"y2":{"field":"I2"}}},
{"data":{"name":"tx"},"transform":[{"filter":"datum.panel==='F' && datum.kind==='title'"}],"mark":{"type":"text","fontSize":7.5,"fontWeight":"bold","fill":"black"},"encoding":{"text":{"field":"label"}}},
{"data":{"name":"tx"},"transform":[{"filter":"datum.panel==='F' && datum.kind==='label'"}],"mark":{"type":"text","fontSize":5,"angle":310,"align":"left","baseline":"alphabetic","fill":"black"},"encoding":{"text":{"field":"label"}}},
{"data":{"name":"tx"},"transform":[{"filter":"datum.panel==='F' && datum.kind==='break'"}],"mark":{"type":"text","fontSize":6,"fontWeight":"bold","fill":"black"},"encoding":{"text":{"field":"label"}}},
{"data":{"name":"tx"},"transform":[{"filter":"datum.panel==='F' && datum.kind==='sv'"}],"mark":{"type":"text","fontSize":5,"angle":270,"fill":"black"},"encoding":{"text":{"field":"label"}}},
{"data":{"name":"tx"},"transform":[{"filter":"datum.panel==='F' && datum.kind==='sh'"}],"mark":{"type":"text","fontSize":5,"fill":"black"},"encoding":{"text":{"field":"label"}}}
]}
],"spacing":28,"bounds":"flush","resolve":{"scale":{"shape":"independent","strokeDash":"independent","color":"independent"}}},
{"hconcat":[
{"width":125,"height":92,"title":{"text":"G","dx":-24},
"encoding":{"x":{"field":"conc","type":"quantitative","scale":{"type":"log","domain":[0.03,1000],"nice":false},"axis":{"title":"VA-DEA; μM","titlePadding":0,"values":[0.03,0.04,0.05,0.06,0.07,0.08,0.09,0.1,0.2,0.3,0.4,0.5,0.6,0.7,0.8,0.9,1,2,3,4,5,6,7,8,9,10,20,30,40,50,60,70,80,90,100,200,300,400,500,600,700,800,900,1000],"labelExpr":"indexof([0.1,1,10,100,1000],datum.value)>=0 ? format(datum.value,'~g') : ''","tickSize":{"condition":{"test":"indexof([0.1,1,10,100,1000],datum.value)>=0","value":3},"value":1.5},"labelOverlap":false,"labelFlush":false}},
"y":{"field":"pot","type":"quantitative","scale":{"domain":[-100,1400],"nice":false,"zero":false},"axis":{"title":"IGABA potentiation; %","format":"d","values":[0,200,400,600,800,1000,1200,1400],"titlePadding":2}}},
"layer":[
{"data":{"name":"fits"},"transform":[{"filter":"datum.drug==='DEA'"}],"mark":{"type":"line","color":"black","strokeWidth":0.8,"interpolate":"monotone"},"encoding":{"strokeDash":{"field":"curve","type":"nominal","scale":{"domain":["b1","b2","b3"],"range":[[1,0],[3,2],[2,1.5]]},"legend":null}}},
{"data":{"name":"errs"},"transform":[{"filter":"datum.drug==='DEA'"}],"mark":{"type":"errorbar","ticks":{"size":3},"color":"black","thickness":0.6},"encoding":{"y":{"field":"lo","type":"quantitative","scale":{"domain":[-100,1400],"nice":false,"zero":false},"title":"IGABA potentiation; %"},"y2":{"field":"hi"}}},
{"data":{"name":"pts"},"transform":[{"filter":"datum.drug==='DEA'"}],"mark":{"type":"point","filled":true,"color":"black","opacity":1,"size":28},"encoding":{"shape":{"field":"sub","type":"nominal","scale":{"domain":["α₁β₁γ₂ₛ","α₁β₂γ₂ₛ","α₁β₃γ₂ₛ"],"range":["diamond","square","circle"]},"legend":{"title":null}}}}
]},
{"width":185,"height":92,"title":{"text":"H","dx":1},
"encoding":{"x":{"field":"t","type":"quantitative","scale":{"domain":[0,277.5],"nice":false,"zero":false},"axis":null},"y":{"field":"I","type":"quantitative","scale":{"domain":[-0.828,0],"nice":false,"zero":false},"axis":null}},
"layer":[
{"data":{"name":"tr"},"transform":[{"filter":"datum.panel==='H'"}],"mark":{"type":"line","color":"black","strokeWidth":0.7},"encoding":{"detail":{"field":"id"},"order":{"value":null}}},
{"data":{"name":"bars"},"transform":[{"filter":"datum.panel==='H'"}],"mark":{"type":"rule","strokeWidth":1.8},"encoding":{"x2":{"field":"t2"},"color":{"field":"agent","type":"nominal","scale":{"domain":["GABA","modulator"],"range":["black","#a0a0a0"]},"legend":null}}},
{"data":{"name":"sb"},"transform":[{"filter":"datum.panel==='H'"}],"mark":{"type":"rule","color":"black","strokeWidth":0.8},"encoding":{"x2":{"field":"t2"},"y2":{"field":"I2"}}},
{"data":{"name":"tx"},"transform":[{"filter":"datum.panel==='H' && datum.kind==='title'"}],"mark":{"type":"text","fontSize":7.5,"fontWeight":"bold","fill":"black"},"encoding":{"text":{"field":"label"}}},
{"data":{"name":"tx"},"transform":[{"filter":"datum.panel==='H' && datum.kind==='label'"}],"mark":{"type":"text","fontSize":5,"angle":310,"align":"left","baseline":"alphabetic","fill":"black"},"encoding":{"text":{"field":"label"}}},
{"data":{"name":"tx"},"transform":[{"filter":"datum.panel==='H' && datum.kind==='break'"}],"mark":{"type":"text","fontSize":6,"fontWeight":"bold","fill":"black"},"encoding":{"text":{"field":"label"}}},
{"data":{"name":"tx"},"transform":[{"filter":"datum.panel==='H' && datum.kind==='sv'"}],"mark":{"type":"text","fontSize":5,"angle":270,"fill":"black"},"encoding":{"text":{"field":"label"}}},
{"data":{"name":"tx"},"transform":[{"filter":"datum.panel==='H' && datum.kind==='sh'"}],"mark":{"type":"text","fontSize":5,"fill":"black"},"encoding":{"text":{"field":"label"}}}
]}
],"spacing":28,"bounds":"flush","resolve":{"scale":{"shape":"independent","strokeDash":"independent","color":"independent"}}}
],
"spacing":5,"bounds":"full",
"resolve":{"scale":{"shape":"independent","strokeDash":"independent","color":"independent"}}
}
